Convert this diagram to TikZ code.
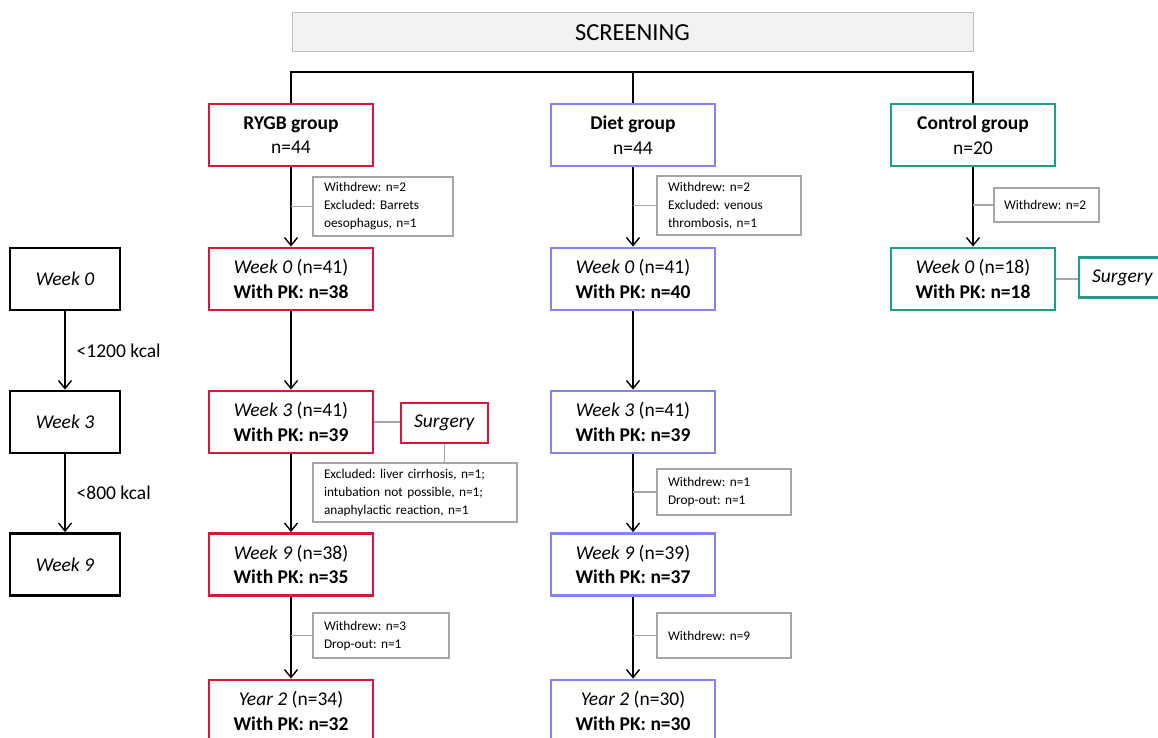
\documentclass[tikz,border=0pt]{standalone}
\usepackage{fontspec}
\setmainfont{Carlito}
\usetikzlibrary{arrows.meta}
\definecolor{rred}{HTML}{D9163A}
\definecolor{dblue}{HTML}{8383F5}
\definecolor{cteal}{HTML}{1E9E88}
\definecolor{ngray}{HTML}{A6A6A6}
\definecolor{sfill}{HTML}{F2F2F2}
\definecolor{sdraw}{HTML}{C0C0C0}
\begin{document}
\begin{tikzpicture}[x=1pt,y=-1pt,
  bigtext/.style={font=\fontsize{19.5}{24.5}\selectfont},
  grpbox/.style={draw, line width=2.8pt, fill=white, minimum width=164pt, minimum height=62pt, align=center, inner sep=0pt, bigtext},
  rbox/.style={grpbox, draw=rred},
  dbox/.style={grpbox, draw=dblue},
  cbox/.style={grpbox, draw=cteal},
  lbox/.style={grpbox, draw=black, minimum width=110pt},
  surgbox/.style={minimum width=87pt, minimum height=40pt},
  scr/.style={draw=sdraw, fill=sfill, line width=1pt, minimum width=681pt, minimum height=39pt, inner sep=0pt, font=\fontsize{24.5}{28}\selectfont},
  note/.style={draw=ngray, line width=1.1pt, align=left, inner xsep=11pt, inner ysep=0pt, font=\fontsize{13.3}{18}\selectfont},
  nline/.style={draw=ngray, line width=1.1pt},
  arr/.style={draw=black, line width=1.4pt, -{Straight Barb[length=8pt,width=13pt]}},
  tree/.style={draw=black, line width=1.4pt},
  kcal/.style={anchor=west, inner sep=0pt, xshift=11pt, bigtext}
]
\clip (0,0) rectangle (1158,738);

% screening
\node[scr] (screen) at (632.5,32.5) {SCREENING};

% groups
\node[rbox] (rygb) at (291,135) {\textbf{RYGB group}\\n=44};
\node[dbox] (diet) at (633,135) {\textbf{Diet group}\\n=44};
\node[cbox] (ctl) at (973,135) {\textbf{Control group}\\n=20};

\coordinate (bar) at (0,72);
\draw[tree] (rygb.north) -- (rygb.north |- bar) -- (ctl.north |- bar) -- (ctl.north);
\draw[tree] (diet.north) -- (diet.north |- bar);

% RYGB column
\node[rbox] (r0) at (291,279) {\textit{Week 0} (n=41)\\\textbf{With PK: n=38}};
\node[rbox] (r3) at (291,422) {\textit{Week 3} (n=41)\\\textbf{With PK: n=39}};
\node[rbox] (r9) at (291,564.5) {\textit{Week 9} (n=38)\\\textbf{With PK: n=35}};
\node[rbox] (ry2) at (291,711) {\textit{Year 2} (n=34)\\\textbf{With PK: n=32}};
\node[rbox, surgbox] (rsurg) at (444.5,423) {\textit{Surgery}};

% Diet column
\node[dbox] (d0) at (633,279) {\textit{Week 0} (n=41)\\\textbf{With PK: n=40}};
\node[dbox] (d3) at (633,422) {\textit{Week 3} (n=41)\\\textbf{With PK: n=39}};
\node[dbox] (d9) at (633,564.5) {\textit{Week 9} (n=39)\\\textbf{With PK: n=37}};
\node[dbox] (dy2) at (633,711) {\textit{Year 2} (n=30)\\\textbf{With PK: n=30}};

% Control column
\node[cbox] (c0) at (973,279) {\textit{Week 0} (n=18)\\\textbf{With PK: n=18}};
\node[cbox, surgbox] (csurg) at (1122.5,277.5) {\textit{Surgery}};

% left timeline
\node[lbox] (w0) at (65,279) {\textit{Week 0}};
\node[lbox] (w3) at (65,422) {\textit{Week 3}};
\node[lbox] (w9) at (65,564.5) {\textit{Week 9}};

% notes
\node[note, text width=118pt, minimum width=140pt, minimum height=59pt] (rn1) at (383,206.5) {Withdrew:~n=2\\Excluded:~Barrets\\oesophagus,~n=1};
\node[note, text width=122pt, minimum width=144pt, minimum height=59pt] (dn1) at (729,205.5) {Withdrew:~n=2\\Excluded:~venous\\thrombosis,~n=1};
\node[note, text width=85pt, inner xsep=10pt, minimum width=105pt, minimum height=34pt] (cn1) at (1046.5,205) {Withdrew:~n=2};
\node[note, text width=182pt, minimum width=204pt, minimum height=59pt] (rn2) at (415,492.5) {Excluded:~liver~cirrhosis,~n=1;\\intubation~not~possible,~n=1;\\anaphylactic~reaction,~n=1};
\node[note, text width=112pt, minimum width=134pt, minimum height=46pt] (dn2) at (724,492) {Withdrew:~n=1\\Drop-out:~n=1};
\node[note, text width=114pt, minimum width=136pt, minimum height=45pt] (rn3) at (381,635.5) {Withdrew:~n=3\\Drop-out:~n=1};
\node[note, text width=112pt, minimum width=134pt, minimum height=45pt] (dn3) at (724,635.5) {Withdrew:~n=9};

% arrows
\draw[arr] (rygb) -- (r0);
\draw[arr] (r0) -- (r3);
\draw[arr] (r3) -- (r9);
\draw[arr] (r9) -- (ry2);
\draw[arr] (diet) -- (d0);
\draw[arr] (d0) -- (d3);
\draw[arr] (d3) -- (d9);
\draw[arr] (d9) -- (dy2);
\draw[arr] (ctl) -- (c0);
\draw[arr] (w0) -- node[kcal] {<1200 kcal} (w3);
\draw[arr] (w3) -- node[kcal] {<800 kcal} (w9);

% note connectors
\draw[nline] (rn1.west) -- (rn1.west -| rygb.south);
\draw[nline] (dn1.west) -- (dn1.west -| diet.south);
\draw[nline] (cn1.west) -- (cn1.west -| ctl.south);
\draw[nline] (dn2.west) -- (dn2.west -| d3.south);
\draw[nline] (rn3.west) -- (rn3.west -| r9.south);
\draw[nline] (dn3.west) -- (dn3.west -| d9.south);
\draw[nline] (r3.east) -- (r3.east -| rsurg.west);
\draw[nline] (rsurg.south) -- (rsurg.south |- rn2.north);
\draw[nline] (c0.east) -- (c0.east -| csurg.west);
\end{tikzpicture}
\end{document}
